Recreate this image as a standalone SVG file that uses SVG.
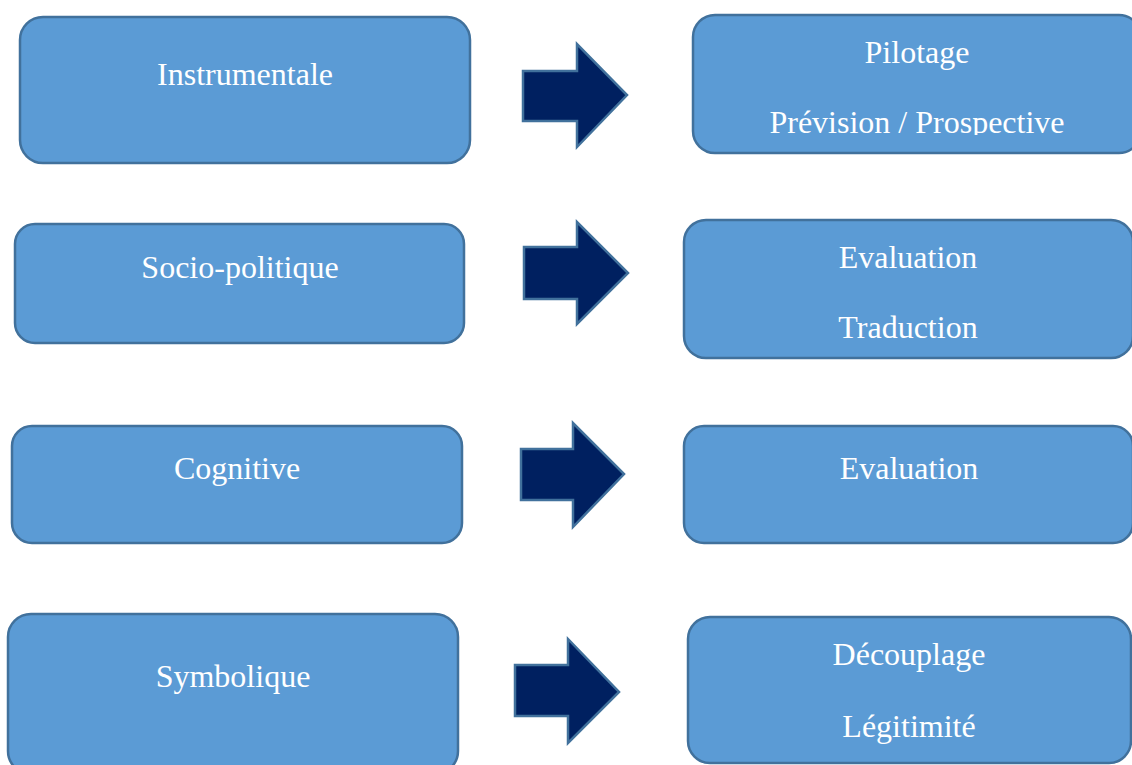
<svg xmlns="http://www.w3.org/2000/svg" width="1132" height="765" viewBox="0 0 1132 765">
<defs>
<style>
.box{fill:#5B9BD5;stroke:#41719C;stroke-width:2.5}
.arr{fill:#002060;stroke:#41719C;stroke-width:2.5;stroke-linejoin:miter}
.t{font-family:"Liberation Serif","Times New Roman",serif;font-size:32px;fill:#FFFFFF;text-anchor:middle}
</style>
<clipPath id="clip1"><rect x="693" y="15" width="450" height="120"/></clipPath>
</defs>
<rect width="1132" height="765" fill="#FFFFFF"/>
<g id="node-instrumentale">
<rect class="box" x="20" y="17" width="450" height="146" rx="23"/>
<text class="t" x="245" y="85">Instrumentale</text>
</g>
<g id="node-pilotage">
<rect class="box" x="693" y="15" width="448" height="138" rx="22"/>
<g clip-path="url(#clip1)">
<text class="t" x="917" y="63">Pilotage</text>
<text class="t" x="917" y="133">Prévision / Prospective</text>
</g>
</g>
<g id="node-sociopolitique">
<rect class="box" x="15" y="224" width="449" height="119" rx="20"/>
<text class="t" x="240" y="278">Socio-politique</text>
</g>
<g id="node-evaluation-traduction">
<rect class="box" x="684" y="220" width="449" height="138" rx="22"/>
<text class="t" x="908" y="268">Evaluation</text>
<text class="t" x="908" y="338">Traduction</text>
</g>
<g id="node-cognitive">
<rect class="box" x="12" y="426" width="450" height="117" rx="20"/>
<text class="t" x="237" y="479">Cognitive</text>
</g>
<g id="node-evaluation">
<rect class="box" x="684" y="426" width="449" height="117" rx="20"/>
<text class="t" x="909" y="479">Evaluation</text>
</g>
<g id="node-symbolique">
<rect class="box" x="8" y="614" width="450" height="160" rx="23"/>
<text class="t" x="233" y="687">Symbolique</text>
</g>
<g id="node-decouplage">
<rect class="box" x="688" y="617" width="443" height="146" rx="22"/>
<text class="t" x="909" y="665">Découplage</text>
<text class="t" x="909" y="737">Légitimité</text>
</g>
<g id="connectors">
<polygon class="arr" points="523,71 577,71 577,44 627,95 577,147 577,121 523,121"/>
<polygon class="arr" points="524,247 577,247 577,222 628,273 577,324 577,299 524,299"/>
<polygon class="arr" points="521,449 573,449 573,423 624,474 573,527 573,500 521,500"/>
<polygon class="arr" points="515,665 568,665 568,639 619,692 568,743 568,716 515,716"/>
</g>
</svg>
